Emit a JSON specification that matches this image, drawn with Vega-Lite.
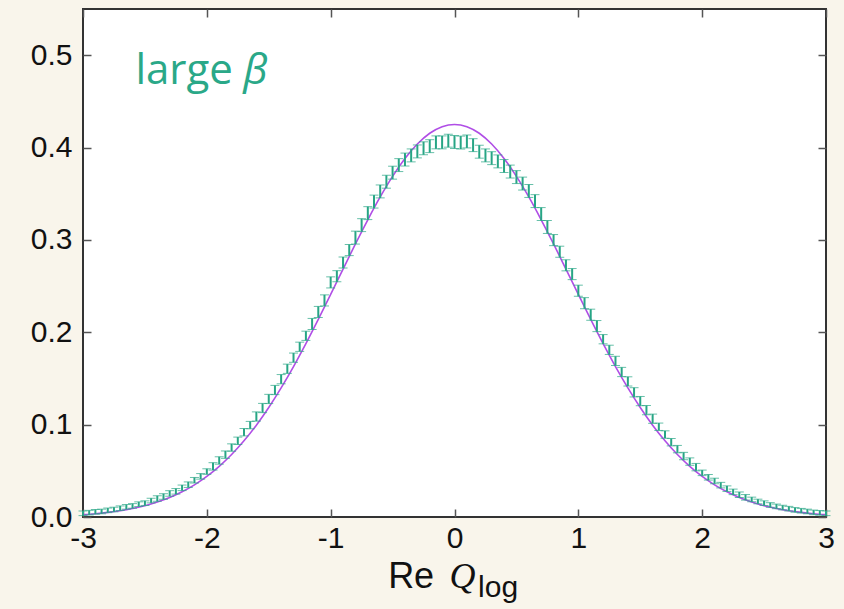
{
  "$schema": "https://vega.github.io/schema/vega-lite/v6.json",
  "autosize": {"type": "none"},
  "width": 743,
  "height": 508,
  "padding": {"left": 83, "top": 9, "right": 18, "bottom": 92},
  "background": "#f9f5eb",
  "config": {
    "view": {"fill": "#ffffff", "stroke": "#333333", "strokeWidth": 2},
    "axis": {"grid": false, "domain": false, "tickColor": "#555555", "tickWidth": 1.5, "labelFont": "Liberation Sans", "labelColor": "#111111", "title": null}
  },
  "datasets": {
    "curve": [
      {"x": -3.0, "y": 0.0026}, {"x": -2.9, "y": 0.0036}, {"x": -2.8, "y": 0.0050}, {"x": -2.7, "y": 0.0068}, {"x": -2.6, "y": 0.0092},
      {"x": -2.5, "y": 0.0122}, {"x": -2.4, "y": 0.0162}, {"x": -2.3, "y": 0.0211}, {"x": -2.2, "y": 0.0273}, {"x": -2.1, "y": 0.0348},
      {"x": -2.0, "y": 0.0439}, {"x": -1.9, "y": 0.0548}, {"x": -1.8, "y": 0.0676}, {"x": -1.7, "y": 0.0825}, {"x": -1.6, "y": 0.0994},
      {"x": -1.5, "y": 0.1186}, {"x": -1.4, "y": 0.1398}, {"x": -1.3, "y": 0.1629}, {"x": -1.2, "y": 0.1877}, {"x": -1.1, "y": 0.2139},
      {"x": -1.0, "y": 0.2410}, {"x": -0.9, "y": 0.2684}, {"x": -0.8, "y": 0.2956}, {"x": -0.7, "y": 0.3218}, {"x": -0.6, "y": 0.3465},
      {"x": -0.5, "y": 0.3688}, {"x": -0.4, "y": 0.3881}, {"x": -0.3, "y": 0.4038}, {"x": -0.2, "y": 0.4155}, {"x": -0.1, "y": 0.4226},
      {"x": 0.0, "y": 0.4250},
      {"x": 0.1, "y": 0.4226}, {"x": 0.2, "y": 0.4155}, {"x": 0.3, "y": 0.4038}, {"x": 0.4, "y": 0.3881}, {"x": 0.5, "y": 0.3688},
      {"x": 0.6, "y": 0.3465}, {"x": 0.7, "y": 0.3218}, {"x": 0.8, "y": 0.2956}, {"x": 0.9, "y": 0.2684}, {"x": 1.0, "y": 0.2410},
      {"x": 1.1, "y": 0.2139}, {"x": 1.2, "y": 0.1877}, {"x": 1.3, "y": 0.1629}, {"x": 1.4, "y": 0.1398}, {"x": 1.5, "y": 0.1186},
      {"x": 1.6, "y": 0.0994}, {"x": 1.7, "y": 0.0825}, {"x": 1.8, "y": 0.0676}, {"x": 1.9, "y": 0.0548}, {"x": 2.0, "y": 0.0439},
      {"x": 2.1, "y": 0.0348}, {"x": 2.2, "y": 0.0273}, {"x": 2.3, "y": 0.0211}, {"x": 2.4, "y": 0.0162}, {"x": 2.5, "y": 0.0122},
      {"x": 2.6, "y": 0.0092}, {"x": 2.7, "y": 0.0068}, {"x": 2.8, "y": 0.0050}, {"x": 2.9, "y": 0.0036}, {"x": 3.0, "y": 0.0026}
    ],
    "pts": [
      {"x": -3.00, "y": 0.0040, "err": 0.0025}, {"x": -2.95, "y": 0.0047, "err": 0.0025}, {"x": -2.90, "y": 0.0056, "err": 0.0025},
      {"x": -2.85, "y": 0.0060, "err": 0.0025}, {"x": -2.80, "y": 0.0072, "err": 0.0025}, {"x": -2.75, "y": 0.0081, "err": 0.0025},
      {"x": -2.70, "y": 0.0095, "err": 0.0025}, {"x": -2.65, "y": 0.0110, "err": 0.0025}, {"x": -2.60, "y": 0.0120, "err": 0.0025},
      {"x": -2.55, "y": 0.0139, "err": 0.0025}, {"x": -2.50, "y": 0.0150, "err": 0.0025}, {"x": -2.45, "y": 0.0178, "err": 0.0025},
      {"x": -2.40, "y": 0.0200, "err": 0.003}, {"x": -2.35, "y": 0.0222, "err": 0.003}, {"x": -2.30, "y": 0.0255, "err": 0.003},
      {"x": -2.25, "y": 0.0278, "err": 0.003}, {"x": -2.20, "y": 0.0316, "err": 0.003}, {"x": -2.15, "y": 0.0350, "err": 0.003},
      {"x": -2.10, "y": 0.0398, "err": 0.003}, {"x": -2.05, "y": 0.0440, "err": 0.003}, {"x": -2.00, "y": 0.0492, "err": 0.003},
      {"x": -1.95, "y": 0.0548, "err": 0.004}, {"x": -1.90, "y": 0.0612, "err": 0.004}, {"x": -1.85, "y": 0.0675, "err": 0.004},
      {"x": -1.80, "y": 0.0752, "err": 0.004}, {"x": -1.75, "y": 0.0825, "err": 0.004}, {"x": -1.70, "y": 0.0918, "err": 0.004},
      {"x": -1.65, "y": 0.0995, "err": 0.004}, {"x": -1.60, "y": 0.1088, "err": 0.005}, {"x": -1.55, "y": 0.1180, "err": 0.005},
      {"x": -1.50, "y": 0.1278, "err": 0.005}, {"x": -1.45, "y": 0.1375, "err": 0.005}, {"x": -1.40, "y": 0.1492, "err": 0.005},
      {"x": -1.35, "y": 0.1605, "err": 0.005}, {"x": -1.30, "y": 0.1725, "err": 0.005}, {"x": -1.25, "y": 0.1843, "err": 0.005},
      {"x": -1.20, "y": 0.1962, "err": 0.005}, {"x": -1.15, "y": 0.2090, "err": 0.006}, {"x": -1.10, "y": 0.2220, "err": 0.006},
      {"x": -1.05, "y": 0.2345, "err": 0.006}, {"x": -1.00, "y": 0.2540, "err": 0.006}, {"x": -0.95, "y": 0.2607, "err": 0.006},
      {"x": -0.90, "y": 0.2755, "err": 0.006}, {"x": -0.85, "y": 0.2890, "err": 0.006}, {"x": -0.80, "y": 0.3025, "err": 0.007},
      {"x": -0.75, "y": 0.3160, "err": 0.007}, {"x": -0.70, "y": 0.3290, "err": 0.007}, {"x": -0.65, "y": 0.3415, "err": 0.007},
      {"x": -0.60, "y": 0.3525, "err": 0.007}, {"x": -0.55, "y": 0.3630, "err": 0.007}, {"x": -0.50, "y": 0.3728, "err": 0.007},
      {"x": -0.45, "y": 0.3810, "err": 0.007}, {"x": -0.40, "y": 0.3870, "err": 0.007}, {"x": -0.35, "y": 0.3915, "err": 0.007},
      {"x": -0.30, "y": 0.3958, "err": 0.007}, {"x": -0.25, "y": 0.3992, "err": 0.007}, {"x": -0.20, "y": 0.4015, "err": 0.007},
      {"x": -0.15, "y": 0.4056, "err": 0.007}, {"x": -0.10, "y": 0.4056, "err": 0.007}, {"x": -0.05, "y": 0.4074, "err": 0.007},
      {"x": 0.00, "y": 0.4060, "err": 0.007}, {"x": 0.05, "y": 0.4054, "err": 0.007}, {"x": 0.10, "y": 0.4066, "err": 0.007},
      {"x": 0.15, "y": 0.4026, "err": 0.007}, {"x": 0.20, "y": 0.3955, "err": 0.007}, {"x": 0.25, "y": 0.3915, "err": 0.007},
      {"x": 0.30, "y": 0.3885, "err": 0.007}, {"x": 0.35, "y": 0.3850, "err": 0.007}, {"x": 0.40, "y": 0.3800, "err": 0.007},
      {"x": 0.45, "y": 0.3740, "err": 0.007}, {"x": 0.50, "y": 0.3680, "err": 0.007}, {"x": 0.55, "y": 0.3610, "err": 0.007},
      {"x": 0.60, "y": 0.3530, "err": 0.007}, {"x": 0.65, "y": 0.3420, "err": 0.007}, {"x": 0.70, "y": 0.3280, "err": 0.007},
      {"x": 0.75, "y": 0.3140, "err": 0.007}, {"x": 0.80, "y": 0.2998, "err": 0.006}, {"x": 0.85, "y": 0.2872, "err": 0.006},
      {"x": 0.90, "y": 0.2725, "err": 0.006}, {"x": 0.95, "y": 0.2630, "err": 0.006}, {"x": 1.00, "y": 0.2450, "err": 0.006},
      {"x": 1.05, "y": 0.2315, "err": 0.006}, {"x": 1.10, "y": 0.2190, "err": 0.006}, {"x": 1.15, "y": 0.2067, "err": 0.006},
      {"x": 1.20, "y": 0.1925, "err": 0.005}, {"x": 1.25, "y": 0.1810, "err": 0.005}, {"x": 1.30, "y": 0.1690, "err": 0.005},
      {"x": 1.35, "y": 0.1570, "err": 0.005}, {"x": 1.40, "y": 0.1468, "err": 0.005}, {"x": 1.45, "y": 0.1350, "err": 0.005},
      {"x": 1.50, "y": 0.1255, "err": 0.005}, {"x": 1.55, "y": 0.1157, "err": 0.005}, {"x": 1.60, "y": 0.1064, "err": 0.005},
      {"x": 1.65, "y": 0.0977, "err": 0.004}, {"x": 1.70, "y": 0.0893, "err": 0.004}, {"x": 1.75, "y": 0.0810, "err": 0.004},
      {"x": 1.80, "y": 0.0735, "err": 0.004}, {"x": 1.85, "y": 0.0660, "err": 0.004}, {"x": 1.90, "y": 0.0600, "err": 0.004},
      {"x": 1.95, "y": 0.0540, "err": 0.004}, {"x": 2.00, "y": 0.0478, "err": 0.003}, {"x": 2.05, "y": 0.0430, "err": 0.003},
      {"x": 2.10, "y": 0.0390, "err": 0.003}, {"x": 2.15, "y": 0.0345, "err": 0.003}, {"x": 2.20, "y": 0.0307, "err": 0.003},
      {"x": 2.25, "y": 0.0272, "err": 0.003}, {"x": 2.30, "y": 0.0241, "err": 0.003}, {"x": 2.35, "y": 0.0213, "err": 0.003},
      {"x": 2.40, "y": 0.0190, "err": 0.0025}, {"x": 2.45, "y": 0.0168, "err": 0.0025}, {"x": 2.50, "y": 0.0150, "err": 0.0025},
      {"x": 2.55, "y": 0.0130, "err": 0.0025}, {"x": 2.60, "y": 0.0115, "err": 0.0025}, {"x": 2.65, "y": 0.0102, "err": 0.0025},
      {"x": 2.70, "y": 0.0090, "err": 0.0025}, {"x": 2.75, "y": 0.0077, "err": 0.0025}, {"x": 2.80, "y": 0.0068, "err": 0.0025},
      {"x": 2.85, "y": 0.0060, "err": 0.0025}, {"x": 2.90, "y": 0.0050, "err": 0.0025}, {"x": 2.95, "y": 0.0045, "err": 0.0025},
      {"x": 3.00, "y": 0.0040, "err": 0.0025}
    ],
    "titles": [
      {"x": -0.536, "y": -0.0767, "t": "Re", "part": "re"},
      {"x": -0.04, "y": -0.0767, "t": "Q", "part": "q"},
      {"x": 0.19, "y": -0.0864, "t": "log", "part": "log"}
    ],
    "labels": [
      {"x": -2.577, "y": 0.4687, "t": "large", "part": "word"},
      {"x": -1.706, "y": 0.4687, "t": "β", "part": "beta"}
    ]
  },
  "resolve": {"axis": {"x": "independent", "y": "independent"}},
  "layer": [
    {
      "data": {"name": "curve"},
      "mark": {"type": "line", "color": "#b04ee6", "strokeWidth": 1.6, "interpolate": "monotone"},
      "encoding": {
        "x": {"field": "x", "type": "quantitative", "scale": {"domain": [-3, 3], "nice": false},
              "axis": {"orient": "bottom", "values": [-3, -2, -1, 0, 1, 2, 3], "tickSize": -8, "labelPadding": 14, "labelFontSize": 30, "labelExpr": "'' + datum.value", "labelFlush": false}},
        "y": {"field": "y", "type": "quantitative", "scale": {"domain": [0, 0.55], "nice": false, "zero": true},
              "axis": {"orient": "left", "values": [0, 0.1, 0.2, 0.3, 0.4, 0.5], "tickSize": -8, "labelPadding": 19, "labelFontSize": 30, "labelExpr": "format(datum.value, '.1f')", "labelFlush": false}}
      }
    },
    {
      "data": {"name": "curve"},
      "mark": {"type": "line", "opacity": 0},
      "encoding": {
        "x": {"field": "x", "type": "quantitative",
              "axis": {"orient": "top", "values": [-3, -2, -1, 0, 1, 2, 3], "tickSize": -8, "labels": false}},
        "y": {"field": "y", "type": "quantitative",
              "axis": {"orient": "right", "values": [0, 0.1, 0.2, 0.3, 0.4, 0.5], "tickSize": -8, "labels": false}}
      }
    },
    {
      "data": {"name": "pts"},
      "mark": {"type": "errorbar", "color": "#27a585", "ticks": {"size": 9, "strokeWidth": 2, "color": "#27a585"}, "rule": {"strokeWidth": 2}},
      "encoding": {
        "x": {"field": "x", "type": "quantitative", "axis": null},
        "y": {"field": "y", "type": "quantitative", "axis": null},
        "yError": {"field": "err"}
      }
    },
    {
      "data": {"name": "labels"},
      "transform": [{"filter": "datum.part === 'word'"}],
      "mark": {"type": "text", "align": "left", "baseline": "alphabetic", "font": "Open Sans", "fontSize": 42, "color": "#2aa888"},
      "encoding": {
        "x": {"field": "x", "type": "quantitative", "axis": null},
        "y": {"field": "y", "type": "quantitative", "axis": null},
        "text": {"field": "t"}
      }
    },
    {
      "data": {"name": "labels"},
      "transform": [{"filter": "datum.part === 'beta'"}],
      "mark": {"type": "text", "align": "left", "baseline": "alphabetic", "font": "Open Sans", "fontStyle": "italic", "fontSize": 42, "color": "#2aa888"},
      "encoding": {
        "x": {"field": "x", "type": "quantitative", "axis": null},
        "y": {"field": "y", "type": "quantitative", "axis": null},
        "text": {"field": "t"}
      }
    },
    {
      "data": {"name": "titles"},
      "transform": [{"filter": "datum.part === 're'"}],
      "mark": {"type": "text", "align": "left", "baseline": "alphabetic", "font": "Liberation Sans", "fontSize": 36, "color": "#111111"},
      "encoding": {
        "x": {"field": "x", "type": "quantitative", "axis": null},
        "y": {"field": "y", "type": "quantitative", "axis": null},
        "text": {"field": "t"}
      }
    },
    {
      "data": {"name": "titles"},
      "transform": [{"filter": "datum.part === 'q'"}],
      "mark": {"type": "text", "align": "left", "baseline": "alphabetic", "font": "Liberation Serif", "fontStyle": "italic", "fontSize": 36, "color": "#111111"},
      "encoding": {
        "x": {"field": "x", "type": "quantitative", "axis": null},
        "y": {"field": "y", "type": "quantitative", "axis": null},
        "text": {"field": "t"}
      }
    },
    {
      "data": {"name": "titles"},
      "transform": [{"filter": "datum.part === 'log'"}],
      "mark": {"type": "text", "align": "left", "baseline": "alphabetic", "font": "Liberation Sans", "fontSize": 30, "color": "#111111"},
      "encoding": {
        "x": {"field": "x", "type": "quantitative", "axis": null},
        "y": {"field": "y", "type": "quantitative", "axis": null},
        "text": {"field": "t"}
      }
    }
  ]
}
